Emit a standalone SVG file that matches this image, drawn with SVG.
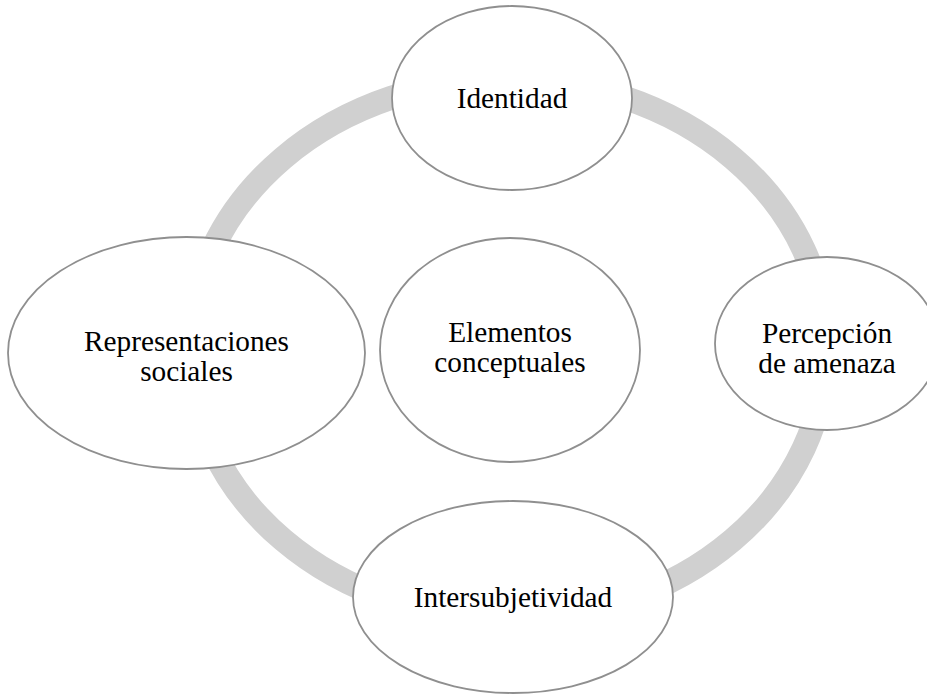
<svg xmlns="http://www.w3.org/2000/svg" width="927" height="694" viewBox="0 0 927 694">
<style>
.ring{fill:none;stroke:#d0d0d0;stroke-width:24}
.node{fill:#ffffff;stroke:#8f8f8f;stroke-width:1.8}
.lbl{font-family:"Liberation Serif","Times New Roman",serif;font-size:29.3px;fill:#000000;text-anchor:middle}
</style>
<rect width="927" height="694" fill="#ffffff"/>
<g id="connectors">
<ellipse class="ring" cx="508" cy="349" rx="318" ry="270"/>
</g>
<g id="node-identidad">
<ellipse class="node" cx="512" cy="98" rx="120" ry="92"/>
<text class="lbl" x="512" y="108">Identidad</text>
</g>
<g id="node-percepcion">
<ellipse class="node" cx="827" cy="343.5" rx="112" ry="86.5"/>
<text class="lbl" x="827" y="343">Percepción</text>
<text class="lbl" x="827" y="373">de amenaza</text>
</g>
<g id="node-intersubjetividad">
<ellipse class="node" cx="513" cy="597" rx="160" ry="96"/>
<text class="lbl" x="513" y="607">Intersubjetividad</text>
</g>
<g id="node-representaciones">
<ellipse class="node" cx="186.5" cy="353" rx="178.5" ry="116"/>
<text class="lbl" x="186.5" y="351">Representaciones</text>
<text class="lbl" x="186.5" y="381">sociales</text>
</g>
<g id="node-elementos">
<ellipse class="node" cx="510" cy="350" rx="130" ry="112"/>
<text class="lbl" x="510" y="342">Elementos</text>
<text class="lbl" x="510" y="372">conceptuales</text>
</g>
</svg>
